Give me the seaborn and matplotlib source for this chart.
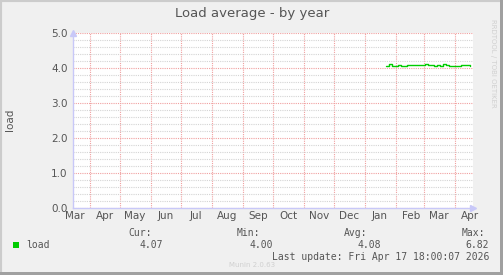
import matplotlib
matplotlib.use("Agg")
import matplotlib.pyplot as plt
import matplotlib.dates as mdates
from matplotlib.patches import Rectangle
from matplotlib.ticker import MultipleLocator, FixedLocator, NullFormatter
import numpy as np
import pandas as pd
import seaborn as sns

# ---------------- data ----------------
title = "Load average - by year"
y_label = "load"
series_name = "load"
start_date = "2025-03-15"
end_date = "2026-04-19"
dates = pd.date_range("2026-01-22", periods=29, freq="3D")
load_values = [4.06, 4.11, 4.07, 4.06, 4.08, 4.06, 4.06, 4.09, 4.09, 4.09,
               4.09, 4.09, 4.10, 4.12, 4.08, 4.08, 4.06, 4.08, 4.07, 4.12,
               4.09, 4.06, 4.06, 4.06, 4.06, 4.10, 4.08, 4.08, 4.07]
stat_names = ["Cur:", "Min:", "Avg:", "Max:"]
stat_values = ["4.07", "4.00", "4.08", "6.82"]
last_update = "Last update: Fri Apr 17 18:00:07 2026"
month_labels = ["Mar", "Apr", "May", "Jun", "Jul", "Aug", "Sep", "Oct",
                "Nov", "Dec", "Jan", "Feb", "Mar", "Apr"]
y_ticks = [0.0, 1.0, 2.0, 3.0, 4.0, 5.0]

df = pd.DataFrame({"date": dates, "load": load_values})

# ---------------- figure ----------------
sns.set_style("white")
plt.rcParams["font.family"] = ["DejaVu Sans"]
W, H = 503, 275
fig = plt.figure(figsize=(W / 100, H / 100), dpi=100)
fig.patch.set_facecolor("#f0f0f0")

# border
fig.add_artist(Rectangle((0, 0), 1, 1, transform=fig.transFigure, fill=False,
                         edgecolor="#cccccc", linewidth=3))
fig.add_artist(Rectangle(((W - 3) / W, 0), 3 / W, 1, transform=fig.transFigure,
                         facecolor="#a0a0a0", edgecolor="none"))
fig.add_artist(Rectangle((0, 0), 1, 3 / H, transform=fig.transFigure,
                         facecolor="#a0a0a0", edgecolor="none"))

x0, x1, ytop, ybot = 73, 473, 33, 208
ax = fig.add_axes([x0 / W, (H - ybot) / H, (x1 - x0) / W, (ybot - ytop) / H])
ax.set_facecolor("white")

sns.lineplot(data=df, x="date", y="load", ax=ax, color="#00cc00",
             linewidth=1.0, drawstyle="steps-post", legend=False)

ax.set_xlim(pd.Timestamp(start_date), pd.Timestamp(end_date))
ax.set_ylim(0, 5.0)

# y ticks / grid
ax.yaxis.set_major_locator(FixedLocator(y_ticks))
ax.set_yticklabels([f"{v:.1f}" for v in y_ticks])
ax.yaxis.set_minor_locator(MultipleLocator(0.2))
ax.grid(which="minor", axis="y", color="#d4d4d4", linestyle=(0, (1, 1)), linewidth=0.8)
ax.grid(which="major", axis="y", color="#f0a0a0", linestyle=(0, (1, 1)), linewidth=0.8)

# x ticks: month boundaries (grid) and mid-month labels
month_starts = pd.date_range("2025-04-01", "2026-04-01", freq="MS")
ax.xaxis.set_major_locator(FixedLocator(mdates.date2num(month_starts)))
ax.xaxis.set_major_formatter(NullFormatter())
mids = pd.date_range("2025-03-01", "2026-04-01", freq="MS") + pd.Timedelta(days=15)
mid_nums = mdates.date2num(mids)
mid_nums[0] = mdates.date2num(pd.Timestamp("2025-03-17"))
ax.xaxis.set_minor_locator(FixedLocator(mid_nums))
ax.set_xticklabels(month_labels, minor=True)
ax.grid(which="major", axis="x", color="#f0a0a0", linestyle=(0, (1, 1)), linewidth=0.8)

ax.tick_params(axis="x", which="minor", length=0, pad=2, labelsize=7.5, labelcolor="#555555")
ax.tick_params(axis="x", which="major", length=2, color="#f0a0a0", direction="inout")
ax.tick_params(axis="y", which="major", length=2, color="#f0a0a0", pad=2,
               labelsize=7.5, labelcolor="#555555")
ax.tick_params(axis="y", which="minor", length=0)

for s in ["top", "right"]:
    ax.spines[s].set_visible(False)
for s in ["left", "bottom"]:
    ax.spines[s].set_color("#c8c8f8")
    ax.spines[s].set_linewidth(1.0)

# axis arrows
ax.plot([1.0], [0], marker=">", color="#c8c8f8", markersize=5,
        transform=ax.transAxes, clip_on=False)
ax.plot([0], [1.0], marker="^", color="#c8c8f8", markersize=5,
        transform=ax.transAxes, clip_on=False)

ax.set_xlabel("")
ax.set_ylabel("")

# texts
txt = "#555555"
fig.text(252 / W, 1 - 14 / H, title, ha="center", va="center", fontsize=9.5, color=txt)
fig.text(10 / W, 1 - 120 / H, y_label, ha="center", va="center", rotation=90,
         fontsize=7.5, color=txt)
fig.text(493 / W, 1 - 63 / H, "RRDTOOL / TOBI OETIKER", ha="center", va="center",
         rotation=270, fontsize=5, color="#d0d0d0")

mono = "DejaVu Sans Mono"
fig.add_artist(Rectangle((13 / W, 1 - 248 / H), 6 / W, 6 / H, transform=fig.transFigure,
                         facecolor="#00cc00", edgecolor="none"))
fig.text(26 / W, 1 - 245 / H, series_name, ha="left", va="center", fontsize=7,
         family=mono, color=txt)
name_x = [152, 260, 367, 485]
val_x = [163, 273, 381, 489]
for n, v, nx, vx in zip(stat_names, stat_values, name_x, val_x):
    fig.text(nx / W, 1 - 233 / H, n, ha="right", va="center", fontsize=7,
             family=mono, color=txt)
    fig.text(vx / W, 1 - 245 / H, v, ha="right", va="center", fontsize=7,
             family=mono, color=txt)
fig.text(489 / W, 1 - 257 / H, last_update, ha="right", va="center", fontsize=7,
         family=mono, color=txt)
fig.text(252 / W, 1 - 265 / H, "Munin 2.0.63", ha="center", va="center", fontsize=5,
         color="#d0d0d0")

fig.savefig("out.png", dpi=100, facecolor=fig.get_facecolor())
